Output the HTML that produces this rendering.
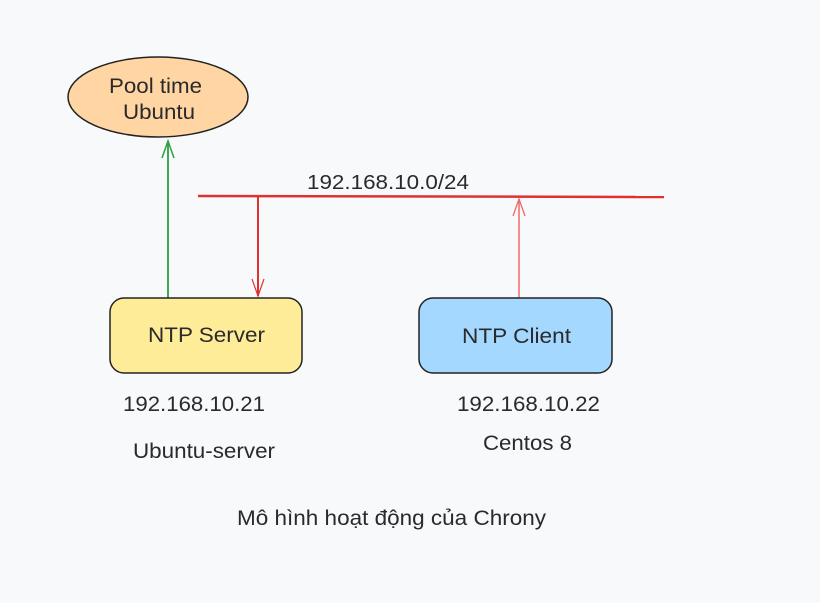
<!DOCTYPE html>
<html><head><meta charset="utf-8"><style>
body{margin:0;background:#f8f9fb;}
svg text{font-family:"Liberation Sans","DejaVu Sans",sans-serif;fill:#2a2a2a;}
</style></head><body>
<svg width="820" height="598" viewBox="0 0 820 598" xmlns="http://www.w3.org/2000/svg">
<rect width="820" height="598" fill="#f8f9fb"/>
<ellipse cx="158" cy="97" rx="90" ry="40" fill="#ffd5a3" stroke="#222" stroke-width="1.5"/>
<text x="109" y="93" font-size="21" textLength="93" lengthAdjust="spacingAndGlyphs">Pool time</text>
<text x="123" y="119" font-size="21" textLength="72" lengthAdjust="spacingAndGlyphs">Ubuntu</text>
<line x1="198" y1="196" x2="664" y2="197" stroke="#e03131" stroke-width="2.5"/>
<text x="307" y="189" font-size="20" textLength="162" lengthAdjust="spacingAndGlyphs">192.168.10.0/24</text>
<line x1="258" y1="197" x2="258" y2="296" stroke="#e03131" stroke-width="2"/>
<polyline points="252,279 258,296 264,279" fill="none" stroke="#e03131" stroke-width="1.2"/>
<line x1="168" y1="298" x2="168" y2="141" stroke="#2f9e44" stroke-width="1.8"/>
<polyline points="162,158 168,141 174,158" fill="none" stroke="#2f9e44" stroke-width="1.5"/>
<line x1="519" y1="298" x2="519" y2="199" stroke="#f06a6a" stroke-width="1.5"/>
<polyline points="513,216 519,199 525,216" fill="none" stroke="#f06a6a" stroke-width="1.3"/>
<rect x="110" y="298" width="192" height="75" rx="14" fill="#ffec99" stroke="#222" stroke-width="1.5"/>
<text x="148" y="342" font-size="21" textLength="117" lengthAdjust="spacingAndGlyphs">NTP Server</text>
<rect x="419" y="298" width="193" height="75" rx="14" fill="#a5d8ff" stroke="#222" stroke-width="1.5"/>
<text x="462" y="343" font-size="21" textLength="109" lengthAdjust="spacingAndGlyphs">NTP Client</text>
<text x="123" y="411" font-size="21" textLength="142" lengthAdjust="spacingAndGlyphs">192.168.10.21</text>
<text x="133" y="458" font-size="21" textLength="142" lengthAdjust="spacingAndGlyphs">Ubuntu-server</text>
<text x="457" y="411" font-size="21" textLength="143" lengthAdjust="spacingAndGlyphs">192.168.10.22</text>
<text x="483" y="450" font-size="21" textLength="89" lengthAdjust="spacingAndGlyphs">Centos 8</text>
<text x="237" y="525" font-size="21" textLength="309" lengthAdjust="spacingAndGlyphs">Mô hình hoạt động của Chrony</text>
</svg>
</body></html>
